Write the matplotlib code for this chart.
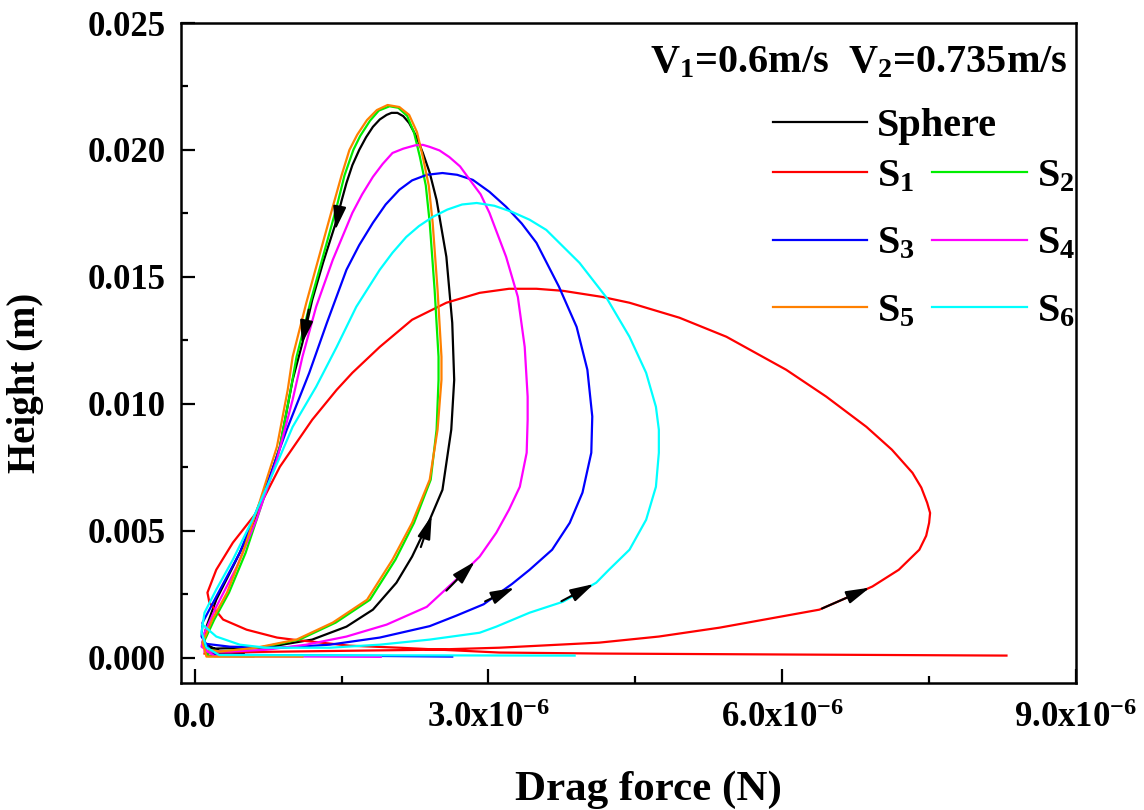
import numpy as np
import matplotlib
matplotlib.use("Agg")
import matplotlib.pyplot as plt

plt.rcParams.update({"font.family": "Liberation Serif", "font.weight": "bold",
                     "mathtext.fontset": "custom", "mathtext.rm": "Liberation Serif:bold",
                     "mathtext.it": "Liberation Serif:bold:italic", "mathtext.bf": "Liberation Serif:bold"})

# drag force in 1e-6 N, height in mm (traced along each loop)
sphere_f = [0.15, 0.45, 0.77, 1.20, 1.55, 1.82, 2.06, 2.22, 2.40, 2.53, 2.62, 2.65, 2.63, 2.57, 2.47, 2.40, 2.33, 2.26, 2.19,
            2.13, 2.07, 2.01, 1.96, 1.89, 1.82, 1.75, 1.68, 1.61, 1.55, 1.50, 1.45, 1.31, 1.20, 1.10, 1.00, 0.87, 0.73, 0.56,
            0.39, 0.22, 0.12, 0.08, 0.26, 0.50]
sphere_h = [0.35, 0.38, 0.43, 0.71, 1.22, 1.89, 2.95, 3.98, 5.43, 6.61, 8.98, 10.94, 13.19, 15.79, 18.03, 19.10, 19.88, 20.55,
            21.06, 21.33, 21.46, 21.46, 21.38, 21.20, 20.91, 20.50, 20.00, 19.40, 18.70, 18.00, 17.24, 15.55, 14.09, 12.40, 10.94,
            8.31, 6.61, 4.92, 3.58, 2.28, 1.22, 0.59, 0.24, 0.15]
s1_f = [0.10, 0.56, 1.58, 2.40, 3.11, 4.13, 4.74, 5.36, 6.38, 6.92, 7.19, 7.40, 7.47, 7.50, 7.51, 7.48, 7.42, 7.33, 7.12, 6.86,
        6.45, 6.04, 5.43, 4.95, 4.44, 4.16, 3.76, 3.49, 3.21, 2.91, 2.57, 2.22, 1.89, 1.61, 1.45, 1.20, 0.87, 0.63, 0.39, 0.22,
        0.13, 0.15, 0.29, 0.53, 0.84, 1.00, 1.58, 2.09, 3.11, 4.13, 6.17, 8.29]
s1_h = [0.16, 0.22, 0.27, 0.31, 0.39, 0.59, 0.83, 1.18, 1.89, 2.80, 3.46, 4.25, 4.80, 5.31, 5.70, 6.10, 6.70, 7.28, 8.19, 9.09,
        10.28, 11.34, 12.64, 13.39, 13.98, 14.21, 14.45, 14.53, 14.53, 14.37, 13.98, 13.31, 12.24, 11.22, 10.55, 9.37, 7.52, 5.71,
        4.53, 3.46, 2.56, 2.17, 1.50, 1.10, 0.79, 0.71, 0.47, 0.39, 0.20, 0.16, 0.12, 0.08]
s2_f = [0.15, 0.26, 0.66, 1.07, 1.44, 1.79, 2.05, 2.24, 2.41, 2.47, 2.49, 2.49, 2.45, 2.40, 2.36, 2.30, 2.24, 2.17, 2.08,
        1.99, 1.88, 1.79, 1.69, 1.62, 1.53, 1.45, 1.32, 1.18, 1.04, 0.98, 0.87, 0.69, 0.52, 0.35, 0.20, 0.09, 0.14, 0.60]
s2_h = [0.30, 0.24, 0.39, 0.71, 1.38, 2.28, 3.86, 5.31, 7.01, 8.98, 10.94, 11.85, 14.49, 17.13, 18.60, 19.72, 20.68, 21.34,
        21.66, 21.72, 21.55, 21.15, 20.55, 20.00, 19.00, 17.76, 15.94, 13.98, 11.85, 10.55, 8.31, 6.10, 4.13, 2.56, 1.50, 0.59,
        0.06, 0.05]
s3_f = [0.10, 0.36, 0.87, 1.38, 1.89, 2.40, 2.67, 2.95, 3.24, 3.42, 3.65, 3.83, 3.96, 4.05, 4.06, 4.01, 3.90, 3.72, 3.49,
        3.34, 3.18, 3.01, 2.84, 2.68, 2.53, 2.37, 2.22, 2.09, 1.95, 1.82, 1.68, 1.55, 1.35, 1.17, 0.94, 0.69, 0.46, 0.22,
        0.08, 0.07, 0.18, 2.63]
s3_h = [0.55, 0.43, 0.39, 0.51, 0.79, 1.24, 1.65, 2.10, 2.90, 3.46, 4.25, 5.31, 6.50, 8.07, 9.50, 11.34, 13.03, 14.61, 16.34,
        17.10, 17.76, 18.35, 18.82, 19.02, 19.09, 19.02, 18.80, 18.43, 17.85, 17.13, 16.25, 15.28, 13.19, 11.22, 8.98, 6.34,
        4.13, 2.40, 1.38, 0.83, 0.12, 0.04]
s4_f = [0.10, 0.36, 0.73, 1.14, 1.55, 1.96, 2.37, 2.67, 2.91, 3.08, 3.21, 3.32, 3.39, 3.40, 3.40, 3.37, 3.30, 3.18, 3.01,
        2.92, 2.81, 2.71, 2.60, 2.50, 2.40, 2.33, 2.25, 2.13, 2.02, 1.92, 1.82, 1.71, 1.61, 1.41, 1.24, 1.10, 1.00, 0.84,
        0.63, 0.43, 0.22, 0.10, 0.07, 0.20, 1.90]
s4_h = [0.25, 0.24, 0.31, 0.51, 0.83, 1.30, 2.00, 3.07, 3.98, 4.92, 5.83, 6.73, 8.07, 9.37, 10.28, 12.24, 14.21, 15.79, 17.52,
        18.25, 18.82, 19.35, 19.72, 19.98, 20.12, 20.20, 20.18, 20.05, 19.88, 19.45, 18.94, 18.25, 17.52, 15.67, 13.82, 11.85,
        10.16, 7.80, 5.43, 3.58, 2.00, 0.98, 0.43, 0.06, 0.03]
s5_f = [0.15, 0.26, 0.63, 1.04, 1.41, 1.76, 2.02, 2.22, 2.40, 2.48, 2.52, 2.52, 2.48, 2.43, 2.39, 2.33, 2.27, 2.19, 2.09,
        1.97, 1.86, 1.76, 1.66, 1.58, 1.50, 1.41, 1.28, 1.14, 1.00, 0.95, 0.84, 0.66, 0.49, 0.33, 0.18, 0.08, 0.12, 1.10]
s5_h = [0.30, 0.24, 0.39, 0.71, 1.38, 2.28, 3.86, 5.31, 7.01, 8.98, 10.94, 11.85, 14.49, 17.13, 18.60, 19.72, 20.70, 21.38,
        21.69, 21.77, 21.57, 21.18, 20.60, 20.00, 19.00, 17.76, 15.94, 13.98, 11.85, 10.55, 8.31, 6.10, 4.13, 2.56, 1.50, 0.59,
        0.04, 0.04]
s6_f = [0.08, 0.22, 0.46, 0.73, 1.38, 1.89, 2.40, 2.91, 3.08, 3.42, 3.76, 4.10, 4.23, 4.44, 4.61, 4.71, 4.74, 4.74, 4.71,
        4.61, 4.44, 4.20, 3.93, 3.59, 3.42, 3.24, 3.06, 2.88, 2.73, 2.58, 2.43, 2.29, 2.16, 2.02, 1.89, 1.65, 1.45, 1.24,
        1.00, 0.80, 0.59, 0.39, 0.22, 0.10, 0.07, 0.12, 0.25, 3.88]
s6_h = [1.30, 0.83, 0.51, 0.39, 0.39, 0.51, 0.71, 0.98, 1.22, 1.77, 2.20, 2.95, 3.46, 4.25, 5.43, 6.73, 8.07, 8.98, 9.88,
        11.22, 12.64, 14.21, 15.55, 16.85, 17.25, 17.56, 17.80, 17.91, 17.85, 17.65, 17.36, 17.00, 16.57, 15.95, 15.28, 13.82,
        12.24, 10.67, 9.09, 7.28, 5.43, 3.86, 2.68, 1.77, 1.00, 0.40, 0.10, 0.08]

# direction arrows: (tail force, tail height) -> (head force, head height), same units
arrow_tail = [(6.38, 1.89), (3.72, 2.17), (2.94, 2.17), (2.55, 2.56), (2.30, 4.25), (1.48, 17.76), (1.17, 13.82)]
arrow_head = [(6.92, 2.80), (4.10, 2.95), (3.29, 2.80), (2.88, 3.86), (2.43, 5.71), (1.43, 16.73), (1.09, 12.24)]

series = [("Sphere", sphere_f, sphere_h, "black"), ("S$_\\mathrm{1}$", s1_f, s1_h, "#ff0000"),
          ("S$_\\mathrm{2}$", s2_f, s2_h, "#00ee00"), ("S$_\\mathrm{3}$", s3_f, s3_h, "#0000ff"),
          ("S$_\\mathrm{4}$", s4_f, s4_h, "#ff00ff"), ("S$_\\mathrm{5}$", s5_f, s5_h, "#ff8000"),
          ("S$_\\mathrm{6}$", s6_f, s6_h, "#00ffff")]

fig = plt.figure(figsize=(11.44, 8.10), dpi=100)
ax = fig.add_axes([181/1144, 1-683/810, 895/1144, 660/810])
H = {}
for lab, f, h, c in series:
    H[lab], = ax.plot(np.array(f)*1e-6, np.array(h)*1e-3, color=c, lw=1.6, label=lab)
for (tf, th), (hf, hh) in zip(arrow_tail, arrow_head):
    ax.annotate("", xy=(hf*1e-6, hh*1e-3), xytext=(tf*1e-6, th*1e-3),
                arrowprops=dict(arrowstyle="-|>,head_length=0.8,head_width=0.22", color="k", lw=1.5, mutation_scale=18))

ax.set_xlim(-0.14e-6, 9.0e-6); ax.set_ylim(-0.001, 0.025)
ax.set_xticks([0, 3e-6, 6e-6, 9e-6])
ax.set_xticklabels(["0.0", "3.0x10$^\\mathrm{-6}$", "6.0x10$^\\mathrm{-6}$", "9.0x10$^\\mathrm{-6}$"])
ax.set_xticks([1.5e-6, 4.5e-6, 7.5e-6], minor=True)
ax.set_yticks(np.arange(0, 0.0251, 0.005)); ax.set_yticks(np.arange(0.0025, 0.025, 0.005), minor=True)
ax.set_yticklabels([f"{v:.3f}" for v in np.arange(0, 0.0251, 0.005)])
ax.tick_params(which="both", direction="in", width=1.6, labelsize=25, top=False, right=False)
ax.tick_params(which="major", length=10); ax.tick_params(which="minor", length=5)
ax.tick_params(axis="y", pad=11); ax.tick_params(axis="x", pad=14)
for s in ax.spines.values(): s.set_linewidth(1.8)
ax.set_xlabel("Drag force (N)", fontsize=31, fontweight="bold")
ax.set_ylabel("Height (m)", fontsize=28, fontweight="bold")
ax.xaxis.set_label_coords(0.522, -0.132)
ax.yaxis.set_label_coords(-0.153, 0.455)

ax.text(0.991, 0.926, "V$_\\mathrm{1}$=0.6m/s  V$_\\mathrm{2}$=0.735m/s", transform=ax.transAxes,
        ha="right", va="baseline", fontsize=29, fontweight="bold")
lkw = dict(frameon=False, fontsize=29, handlelength=2.35, handletextpad=0.25, borderpad=0, borderaxespad=0)
leg1 = ax.legend(handles=[H["Sphere"]], loc="center left", bbox_to_anchor=(0.661, 0.843), **lkw)
ax.add_artist(leg1)
order = ["S$_\\mathrm{1}$", "S$_\\mathrm{3}$", "S$_\\mathrm{5}$", "S$_\\mathrm{2}$", "S$_\\mathrm{4}$", "S$_\\mathrm{6}$"]
ax.legend(handles=[H[k] for k in order], ncol=2, loc="center left", bbox_to_anchor=(0.661, 0.665),
          labelspacing=0.75, columnspacing=0.42, **lkw)

fig.savefig("out.png", dpi=100)
